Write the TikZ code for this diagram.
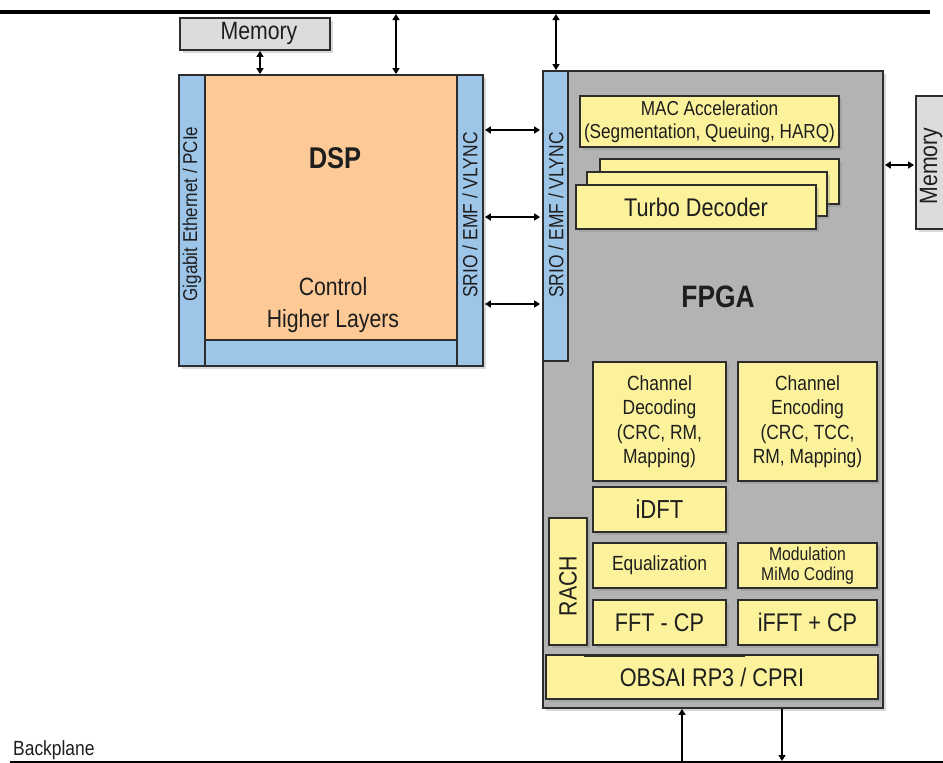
\documentclass[tikz,border=0pt]{standalone}
\usepackage{fontspec}
\setmainfont[FakeStretch=0.85]{Liberation Sans}
\usetikzlibrary{arrows.meta,shadows}
\definecolor{dsporange}{RGB}{253,201,150}
\definecolor{stripblue}{RGB}{157,197,232}
\definecolor{boxyellow}{RGB}{251,242,155}
\definecolor{fpgagrey}{RGB}{179,179,179}
\definecolor{memgrey}{RGB}{220,220,220}
\definecolor{edgegrey}{RGB}{45,45,45}
\definecolor{ink}{RGB}{30,30,30}
\newcommand\myfs[2]{\fontsize{#1}{#2}\selectfont}
\tikzset{
  box/.style={draw=edgegrey, line width=1.8pt, inner sep=0pt, text=ink, align=center},
  shad/.style={drop shadow={shadow xshift=3pt,shadow yshift=-3pt,opacity=0.3}},
  ybox/.style={box, fill=boxyellow, shad},
  strip/.style={box, fill=stripblue},
  lbl/.style={inner sep=0pt, text=ink, align=center},
  dbl/.style={{Triangle[length=6pt,width=7pt]}-{Triangle[length=6pt,width=7pt]}, line width=1.8pt},
  sgl/.style={-{Triangle[length=6pt,width=7pt]}, line width=1.8pt},
}
\begin{document}
\begin{tikzpicture}[x=1pt,y=-1pt]
\useasboundingbox (0,0) rectangle (943,763);

% buses
\coordinate (busL) at (0,12);
\coordinate (busR) at (930,12);
\draw[line width=4pt] (busL) -- (busR);
\coordinate (bpL) at (10,762);
\coordinate (bpR) at (943,762);
\draw[line width=1.5pt] (bpL) -- (bpR);
\node[lbl, anchor=base west, font=\myfs{20.5}{20.5}] (bplabel) at (13,755) {Backplane};

% memory top
\node[box, fill=memgrey, shad, minimum width=150pt, minimum height=32pt] (memtop) at (255,34) {};
\node[lbl, font=\myfs{25}{25}] (memtoplbl) at (259,33) {Memory};

% DSP
\node[box, fill=dsporange, shad, minimum width=304pt, minimum height=291pt] (dspframe) at (331,220.5) {};
\node[strip, minimum width=26pt, minimum height=291pt] (dspleft) at (192,220.5) {};
\node[strip, minimum width=26pt, minimum height=291pt] (dspright) at (470,220.5) {};
\node[strip, minimum width=252pt, minimum height=26pt] (dspbottom) at (331,353) {};
\node[lbl, rotate=90, font=\myfs{20}{20}] (gbe) at (192,214) {Gigabit Ethernet / PCIe};
\node[lbl, rotate=90, font=\myfs{20.5}{20.5}] (srio1) at (470,215) {SRIO / EMF / VLYNC};
\node[lbl, font=\bfseries\myfs{30}{30}] (dsplbl) at (335,158) {DSP};
\node[lbl, font=\myfs{25}{32}] (ctrl) at (333,305) {Control\\Higher Layers};

% FPGA
\node[box, fill=fpgagrey, shad, minimum width=340pt, minimum height=637pt] (fpga) at (713,389.5) {};
\node[strip, minimum width=25pt, minimum height=290pt] (fpgastrip) at (555.5,216) {};
\node[lbl, rotate=90, font=\myfs{20.5}{20.5}] (srio2) at (556,215) {SRIO / EMF / VLYNC};
\node[lbl, font=\bfseries\myfs{31}{31}] (fpgalbl) at (718,297) {FPGA};

\node[ybox, minimum width=259pt, minimum height=51pt, font=\myfs{20.2}{23}] (mac) at (709.5,121.5) {MAC Acceleration\\(Segmentation, Queuing, HARQ)};
\node[ybox, minimum width=239pt, minimum height=45pt] (tdback) at (719.5,181.5) {};
\node[ybox, minimum width=240pt, minimum height=44pt] (tdmid) at (707,194) {};
\node[ybox, minimum width=240pt, minimum height=44pt, font=\myfs{25.5}{25.5}] (td) at (696,207) {Turbo Decoder};

\node[ybox, minimum width=133pt, minimum height=119pt, font=\myfs{20.5}{24.5}] (chdec) at (659.5,421.5) {Channel\\Decoding\\(CRC, RM,\\Mapping)};
\node[ybox, minimum width=139pt, minimum height=119pt, font=\myfs{20.5}{24.5}] (chenc) at (807.5,421.5) {Channel\\Encoding\\(CRC, TCC,\\RM, Mapping)};
\node[ybox, minimum width=133pt, minimum height=45pt, font=\myfs{26}{26}] (idft) at (659.5,509.5) {iDFT};
\node[ybox, minimum width=38pt, minimum height=127pt] (rach) at (568,581.5) {};
\node[lbl, rotate=90, font=\myfs{25}{25}] (rachlbl) at (568,586) {RACH};
\node[ybox, minimum width=133pt, minimum height=45pt, font=\myfs{20.5}{20.5}] (eq) at (659.5,565.5) {Equalization};
\node[ybox, minimum width=139pt, minimum height=45pt, font=\myfs{18.5}{20}] (mod) at (807.5,565.5) {Modulation\\MiMo Coding};
\node[ybox, minimum width=133pt, minimum height=45pt, font=\myfs{25.5}{25.5}] (fft) at (659.5,622.5) {FFT - CP};
\node[ybox, minimum width=139pt, minimum height=45pt, font=\myfs{25.5}{25.5}] (ifft) at (807.5,622.5) {iFFT + CP};
\node[ybox, minimum width=332pt, minimum height=44pt, font=\myfs{25.5}{25.5}] (obsai) at (712,677) {OBSAI RP3 / CPRI};
\draw[line width=3pt, edgegrey] (584,655) -- (745,655);

% memory right
\node[box, fill=memgrey, shad, minimum width=36pt, minimum height=133pt] (memr) at (934,162.5) {};
\node[lbl, rotate=90, font=\myfs{25}{25}] (memrlbl) at (931,166) {Memory};

% connectors
\draw[dbl] ([xshift=5pt]memtop.south) -- ([xshift=5pt]memtop.south |- dspframe.north);
\coordinate (b1) at (396,14);
\draw[dbl] (b1) -- (b1 |- dspframe.north);
\coordinate (b2) at (556,14);
\draw[dbl] (b2) -- (b2 |- fpga.north);
\draw[dbl] ([xshift=1pt]dspframe.east |- 0,130) -- ([xshift=-2pt]fpga.west |- 0,130);
\draw[dbl] ([xshift=1pt]dspframe.east |- 0,217) -- ([xshift=-2pt]fpga.west |- 0,217);
\draw[dbl] ([xshift=1pt]dspframe.east |- 0,304) -- ([xshift=-2pt]fpga.west |- 0,304);
\draw[dbl] ([xshift=1pt]fpga.east |- 0,165) -- ([xshift=-1pt]memr.west |- 0,165);
\coordinate (u1) at (682,761);
\draw[sgl] (u1) -- (u1 |- fpga.south);
\coordinate (d1) at (782,761);
\draw[sgl] (d1 |- fpga.south) -- (d1);
\end{tikzpicture}
\end{document}
